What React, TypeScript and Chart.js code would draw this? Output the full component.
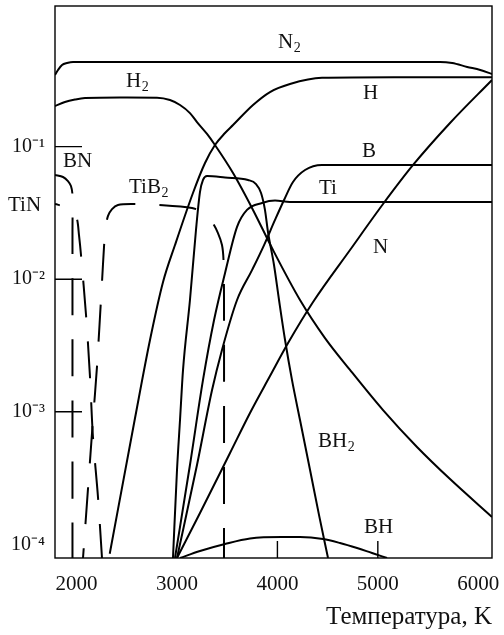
import React, { useEffect, useRef } from "react";
import { Chart, registerables } from "chart.js";

Chart.register(...registerables);

const FONT = "'Liberation Serif', 'Times New Roman', serif";

// axis ticks
const xTickValues = [2000, 3000, 4000, 5000, 6000];
const yTickValues = [1e-4, 1e-3, 1e-2, 1e-1];
const yTickLabels = ["10⁻⁴", "10⁻³", "10⁻²", "10⁻¹"];
const innerTicksY = [1e-1, 1e-2, 1e-3];
const innerTicksX = [4000, 5000];

// series: temperature (K) and mole fraction
const n2T = [1785, 1815, 1855, 1905, 1965, 3000, 4000, 5000, 5620, 5740, 5890, 6020, 6137];
const n2V = [0.347, 0.378, 0.412, 0.427, 0.435, 0.435, 0.435, 0.435, 0.435, 0.427, 0.399, 0.378, 0.353];

const h2T = [1785, 1884, 1984, 2084, 2432, 2801, 2930, 3030, 3129, 3199, 3299, 3378, 3558, 3757, 3956, 4225, 4474, 4723, 5052, 5390, 5719, 6137];
const h2V = [0.202, 0.217, 0.2265, 0.2325, 0.2346, 0.234, 0.2246, 0.206, 0.179, 0.153, 0.1245, 0.1028, 0.0632, 0.0333, 0.0166, 0.00697, 0.0036, 0.00207, 0.00103, 0.000543, 0.000311, 0.000161];

const hT = [2330, 2582, 2731, 2861, 2980, 3159, 3279, 3378, 3478, 3558, 3757, 3926, 4125, 4444, 5221, 6137];
const hV = [0.000085, 0.000898, 0.00348, 0.00953, 0.0181, 0.0447, 0.0752, 0.1028, 0.1266, 0.1455, 0.206, 0.258, 0.2965, 0.33, 0.333, 0.334];

const nT = [3000, 3229, 3528, 3727, 3926, 4106, 4355, 4723, 5052, 5351, 5719, 6137];
const nV = [0.000079, 0.0001725, 0.000489, 0.00098, 0.00186, 0.0033, 0.00673, 0.0166, 0.0369, 0.0727, 0.1507, 0.318];

const bT = [3000, 3199, 3349, 3448, 3598, 3747, 3867, 3976, 4066, 4155, 4275, 4444, 5221, 6137];
const bV = [0.000079, 0.000397, 0.00146, 0.00293, 0.00697, 0.0117, 0.0181, 0.028, 0.0396, 0.0541, 0.0666, 0.0727, 0.0727, 0.0727];

const tiT = [2980, 3129, 3259, 3369, 3478, 3598, 3697, 3847, 3976, 4125, 5221, 6137];
const tiV = [0.000079, 0.000397, 0.00174, 0.00492, 0.0111, 0.0248, 0.0333, 0.0376, 0.0392, 0.0382, 0.0382, 0.0382];

const bh2T = [2960, 3000, 3030, 3060, 3129, 3189, 3229, 3259, 3299, 3478, 3707, 3787, 3837, 3876, 3906, 3966, 4016, 4076, 4145, 4225, 4325, 4414, 4504];
const bh2V = [0.000079, 0.000364, 0.000867, 0.00207, 0.00697, 0.0235, 0.0455, 0.056, 0.06, 0.0585, 0.056, 0.0522, 0.0447, 0.0333, 0.0227, 0.0128, 0.00697, 0.00348, 0.00174, 0.000867, 0.000364, 0.000167, 0.000079];

const bhT = [3030, 3229, 3478, 3727, 4046, 4225, 4454, 4623, 4793, 4942, 5092];
const bhV = [0.000079, 0.0000892, 0.0001007, 0.0001108, 0.0001137, 0.0001137, 0.0001098, 0.0001025, 0.0000939, 0.0000861, 0.000079];

const tib2T = [2064, 2114, 2163, 2203, 2253, 2273, 2288, 2313, 2353, 2412, 2552, 2801, 3149, 3269, 3349, 3408, 3448, 3463, 3468, 3468];
const tib2V = [0.000079, 0.000266, 0.000867, 0.00218, 0.00953, 0.0175, 0.0243, 0.03, 0.0338, 0.0363, 0.0369, 0.0363, 0.0344, 0.0316, 0.027, 0.0223, 0.0181, 0.014, 0.00697, 0.000079];

const tinT = [1785, 1894, 1964, 2004, 2024, 2044, 2094, 2133, 2163, 2213, 2253];
const tinV = [0.0369, 0.035, 0.0321, 0.0284, 0.0215, 0.0152, 0.00537, 0.00186, 0.000646, 0.000228, 0.000079];

const bnT = [1785, 1865, 1914, 1944, 1959, 1959, 1959];
const bnV = [0.0611, 0.059, 0.055, 0.0504, 0.0432, 0.0235, 0.000079];

// curve labels (text, subscript, anchor temperature, anchor value at baseline)
const labelText = ["N", "H", "H", "B", "Ti", "N", "BH", "BH", "BN", "TiB", "TiN"];
const labelSub = ["2", "2", "", "", "", "", "2", "", "", "2", ""];
const labelT = [4006, 2492, 4853, 4843, 4414, 4952, 4404, 4863, 1865, 2522, 1317];
const labelV = [0.554, 0.281, 0.229, 0.0835, 0.0439, 0.0158, 0.000543, 0.000122, 0.0702, 0.0447, 0.0327];

const pts = (t: number[], v: number[]) => t.map((x, i) => ({ x, y: v[i] }));

const zeroPadding = (s: any) => {
  s.paddingTop = 0;
  s.paddingBottom = 0;
  s.paddingLeft = 0;
  s.paddingRight = 0;
};

const decorPlugin = {
  id: "decor",
  afterDatasetsDraw(chart: any) {
    const { ctx, chartArea: a, scales } = chart;
    const xs = scales.x;
    const ys = scales.y;
    ctx.save();
    ctx.strokeStyle = "#000";
    ctx.lineWidth = 1.4;
    ctx.strokeRect(a.left, a.top, a.right - a.left, a.bottom - a.top);
    ctx.beginPath();
    innerTicksY.forEach((v) => {
      const y = ys.getPixelForValue(v);
      ctx.moveTo(a.left, y);
      ctx.lineTo(a.left + 27, y);
    });
    innerTicksX.forEach((v) => {
      const x = xs.getPixelForValue(v);
      ctx.moveTo(x, a.bottom);
      ctx.lineTo(x, a.bottom - 17);
    });
    ctx.stroke();
    ctx.fillStyle = "#111";
    ctx.textAlign = "left";
    ctx.textBaseline = "alphabetic";
    labelText.forEach((txt, i) => {
      const x = xs.getPixelForValue(labelT[i]);
      const y = ys.getPixelForValue(labelV[i]);
      ctx.font = `21px ${FONT}`;
      ctx.fillText(txt, x, y);
      if (labelSub[i]) {
        const w = ctx.measureText(txt).width;
        ctx.font = `14px ${FONT}`;
        ctx.fillText(labelSub[i], x + w + 0.5, y + 4);
      }
    });
    ctx.restore();
  },
};

export default function App() {
  const ref = useRef<HTMLCanvasElement | null>(null);

  useEffect(() => {
    document.body.style.margin = "0";
    if (!ref.current) return;
    const solid = (t: number[], v: number[]) => ({
      data: pts(t, v),
      borderColor: "#000",
      borderWidth: 2,
      pointRadius: 0,
      cubicInterpolationMode: "monotone",
      fill: false,
    });
    const dashed = (t: number[], v: number[], offset: number) => ({
      data: pts(t, v),
      borderColor: "#000",
      borderWidth: 2,
      pointRadius: 0,
      tension: 0.3,
      fill: false,
      borderDash: [37, 24],
      borderDashOffset: offset,
    });
    const chart = new Chart(ref.current, {
      type: "line",
      data: {
        datasets: [
          { label: "N2", ...solid(n2T, n2V) },
          { label: "H2", ...solid(h2T, h2V) },
          { label: "H", ...solid(hT, hV) },
          { label: "N", ...solid(nT, nV) },
          { label: "B", ...solid(bT, bV) },
          { label: "Ti", ...solid(tiT, tiV) },
          { label: "BH2", ...solid(bh2T, bh2V) },
          { label: "BH", ...solid(bhT, bhV) },
          { label: "TiB2", ...dashed(tib2T, tib2V, 27) },
          { label: "TiN", ...dashed(tinT, tinV, 32) },
          { label: "BN", ...dashed(bnT, bnV, 9) },
        ] as any,
      },
      options: {
        animation: false,
        responsive: true,
        maintainAspectRatio: false,
        layout: { padding: { top: 6, right: 12, bottom: 0, left: 0 } },
        plugins: { legend: { display: false }, tooltip: { enabled: false } },
        scales: {
          x: {
            type: "linear",
            min: 1785,
            max: 6137,
            afterBuildTicks: (s: any) => {
              s.ticks = xTickValues.map((value) => ({ value }));
            },
            afterFit: (s: any) => {
              s.height = 77;
              zeroPadding(s);
            },
            grid: { display: false, drawTicks: false },
            border: { display: false },
            ticks: {
              color: "#111",
              font: { family: FONT, size: 21 },
              padding: 14,
              maxRotation: 0,
              autoSkip: false,
              callback: (v: any) => String(v),
            },
            title: {
              display: true,
              text: "Температура, K",
              align: "end",
              color: "#111",
              font: { family: FONT, size: 25 },
              padding: { top: 0, bottom: 3 },
            },
          },
          y: {
            type: "logarithmic",
            min: 7.9e-5,
            max: 1.149,
            afterBuildTicks: (s: any) => {
              s.ticks = yTickValues.map((value) => ({ value }));
            },
            afterFit: (s: any) => {
              s.width = 55;
              zeroPadding(s);
            },
            grid: { display: false, drawTicks: false },
            border: { display: false },
            ticks: {
              color: "#111",
              font: { family: FONT, size: 20 },
              padding: 10,
              autoSkip: false,
              callback: (v: any) => {
                const i = yTickValues.indexOf(v);
                return i >= 0 ? yTickLabels[i] : "";
              },
            },
          },
        },
      } as any,
      plugins: [decorPlugin],
    });
    return () => chart.destroy();
  }, []);

  return (
    <div style={{ position: "relative", width: 504, height: 635 }}>
      <canvas ref={ref} />
    </div>
  );
}
